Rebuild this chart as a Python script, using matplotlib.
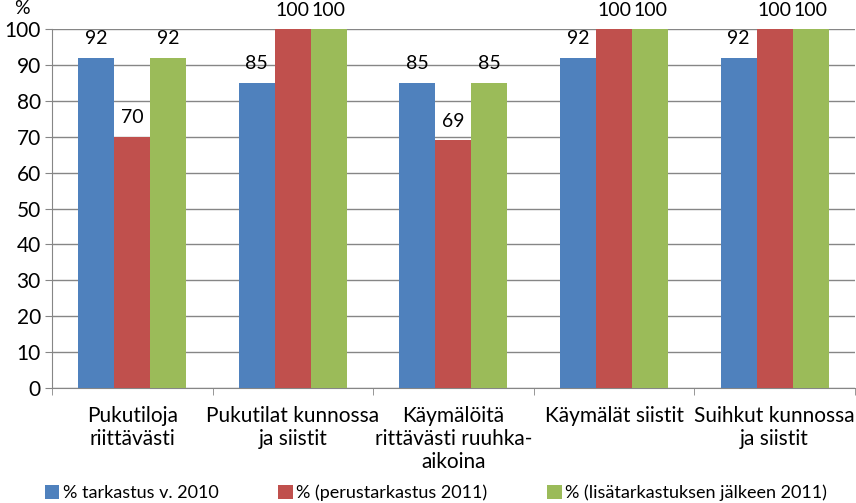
import matplotlib
matplotlib.use("Agg")
import matplotlib.pyplot as plt
from matplotlib.patches import Patch
import numpy as np

categories = ["Pukutiloja\nriittävästi", "Pukutilat kunnossa\nja siistit",
              "Käymälöitä\nrittävästi ruuhka-\naikoina", "Käymälät siistit",
              "Suihkut kunnossa\nja siistit"]
series_names = ["% tarkastus v. 2010", "% (perustarkastus 2011)",
                "% (lisätarkastuksen jälkeen 2011)"]
s2010 = [92, 85, 85, 92, 92]
s2011_base = [70, 100, 69, 100, 100]
s2011_extra = [92, 100, 85, 100, 100]
yticks = list(range(0, 101, 10))

colors = ["#4F81BD", "#C0504D", "#9BBB59"]
font = ["Lato", "DejaVu Sans"]
plt.rcParams['font.family'] = font

fig = plt.figure(figsize=(8.56, 5.03), dpi=100)
ax = fig.add_axes([0.0607, 0.2286, 0.938, 0.7137])

x = np.arange(len(categories))
w = 0.224
for i, (vals, c) in enumerate(zip([s2010, s2011_base, s2011_extra], colors)):
    pos = x + (i - 1) * w
    bars = ax.bar(pos, vals, width=w, color=c, zorder=3)
    for b, v in zip(bars, vals):
        ax.annotate(f"{v}", (b.get_x() + b.get_width() / 2, v), xytext=(0, 7.5),
                    textcoords="offset points", ha="center", va="bottom",
                    fontsize=14, color="#000000")

ax.set_xlim(-0.5, len(categories) - 0.5)
ax.set_ylim(0, 100)
ax.set_yticks(yticks)
ax.set_yticklabels([str(t) for t in yticks], fontsize=15)
ax.yaxis.grid(True, color="#868686", linewidth=1.0, zorder=0)
ax.set_axisbelow(True)

ax.set_xticks(x)
ax.set_xticklabels(categories, fontsize=15, linespacing=1.2)
ax.tick_params(axis="x", length=0, pad=13)
ax.set_xticks(np.arange(-0.5, len(categories), 1.0), minor=True)
ax.tick_params(axis="x", which="minor", length=5, color="#868686", direction="out")
ax.tick_params(axis="y", length=5, color="#868686", direction="out", pad=3)

for s in ["top", "right"]:
    ax.spines[s].set_visible(False)
for s in ["left", "bottom"]:
    ax.spines[s].set_color("#868686")

fig.text(22 / 856, 1 - 9 / 503, "%", fontsize=14, ha="center", va="center")

handles = [Patch(facecolor=c) for c in colors]
fig.legend(handles, series_names, loc="center", bbox_to_anchor=(0.5 + 8 / 856, 1 - 493 / 503),
           ncol=3, frameon=False, fontsize=13, handlelength=0.8, handleheight=0.8,
           handletextpad=0.2, columnspacing=3.3, borderaxespad=0)

fig.savefig("out.png", dpi=100)
